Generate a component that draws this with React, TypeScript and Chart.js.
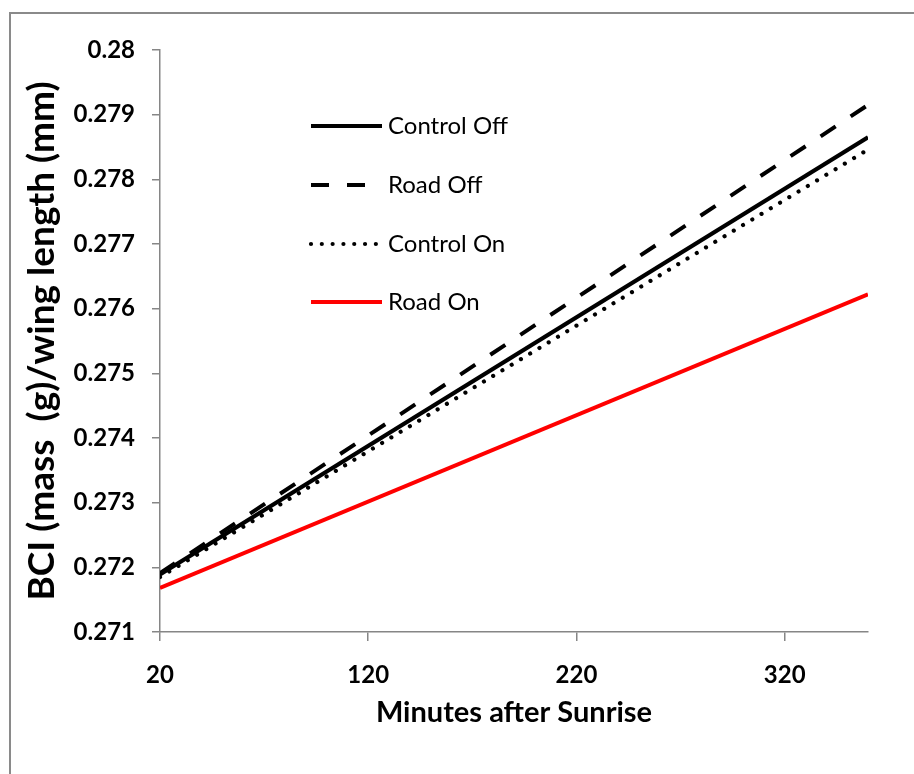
import React, { useEffect, useRef } from "react";
import { Chart, registerables } from "chart.js";

Chart.register(...registerables);

const xValues = [20, 360];
const controlOff = [0.27189, 0.27865];
const roadOff = [0.27191, 0.27915];
const controlOn = [0.27185, 0.27846];
const roadOn = [0.27168, 0.27622];
const xTicks = [20, 120, 220, 320];
const seriesLabels = ["Control Off", "Road Off", "Control On", "Road On"];

const FONT = "Lato";
const AXIS_GRAY = "#868686";

const toPoints = (ys: number[]) => xValues.map((x, i) => ({ x, y: ys[i] }));

const framePlugin = {
  id: "frame",
  beforeDraw(chart: any) {
    const ctx = chart.ctx;
    ctx.save();
    ctx.fillStyle = "#ffffff";
    ctx.fillRect(0, 0, chart.width, chart.height);
    ctx.strokeStyle = "#8a8a8a";
    ctx.lineWidth = 2;
    ctx.strokeRect(10, 13, 2000, 2000);
    ctx.restore();
  },
};

const legendPlugin = {
  id: "customLegend",
  afterDatasetsDraw(chart: any) {
    const ctx = chart.ctx;
    const x0 = 311;
    const x1 = 382;
    const rows = [126, 185, 244, 302];
    chart.data.datasets.forEach((ds: any, i: number) => {
      const y = rows[i];
      ctx.save();
      ctx.strokeStyle = ds.borderColor;
      ctx.lineWidth = ds.borderWidth;
      ctx.lineCap = ds.borderCapStyle || "butt";
      ctx.setLineDash(ds.borderDash || []);
      ctx.beginPath();
      ctx.moveTo(x0, y);
      ctx.lineTo(x1, y);
      ctx.stroke();
      ctx.setLineDash([]);
      ctx.fillStyle = "#000000";
      ctx.font = `24px ${FONT}`;
      ctx.textBaseline = "middle";
      ctx.textAlign = "left";
      ctx.fillText(ds.label, 388, y);
      ctx.restore();
    });
  },
};

export default function App() {
  const canvasRef = useRef<HTMLCanvasElement | null>(null);

  useEffect(() => {
    if (!canvasRef.current) return;
    const chart = new Chart(canvasRef.current, {
      type: "line",
      data: {
        datasets: [
          {
            label: seriesLabels[0],
            data: toPoints(controlOff),
            borderColor: "#000000",
            borderWidth: 4,
            borderCapStyle: "butt",
            pointRadius: 0,
          },
          {
            label: seriesLabels[1],
            data: toPoints(roadOff),
            borderColor: "#000000",
            borderWidth: 4,
            borderDash: [18, 18],
            borderCapStyle: "butt",
            pointRadius: 0,
          },
          {
            label: seriesLabels[2],
            data: toPoints(controlOn),
            borderColor: "#000000",
            borderWidth: 4.2,
            borderDash: [0.01, 10.8],
            borderCapStyle: "round",
            pointRadius: 0,
          },
          {
            label: seriesLabels[3],
            data: toPoints(roadOn),
            borderColor: "#ff0000",
            borderWidth: 4,
            borderCapStyle: "butt",
            pointRadius: 0,
          },
        ] as any,
      },
      options: {
        animation: false,
        responsive: false,
        maintainAspectRatio: false,
        layout: { padding: { top: 50, right: 46, left: 0, bottom: 0 } },
        plugins: {
          legend: { display: false },
          tooltip: { enabled: false },
        },
        scales: {
          x: {
            type: "linear",
            min: 20,
            max: 360,
            afterFit(scale: any) {
              scale.height = 142;
            },
            afterBuildTicks(scale: any) {
              scale.ticks = xTicks.map((v) => ({ value: v }));
            },
            grid: {
              drawOnChartArea: false,
              drawTicks: true,
              tickLength: 9,
              color: AXIS_GRAY,
              lineWidth: 1.5,
            },
            border: { color: AXIS_GRAY, width: 1.5 },
            ticks: {
              color: "#000000",
              padding: 20,
              maxRotation: 0,
              font: { family: FONT, size: 24, weight: "bold" },
              callback: (v: any) => String(v),
            },
            title: {
              display: true,
              text: "Minutes after Sunrise",
              color: "#000000",
              padding: 44,
              font: { family: FONT, size: 29, weight: "bold" },
            },
          },
          y: {
            type: "linear",
            min: 0.271,
            max: 0.28,
            afterFit(scale: any) {
              scale.width = 160;
            },
            grid: {
              drawOnChartArea: false,
              drawTicks: true,
              tickLength: 8,
              color: AXIS_GRAY,
              lineWidth: 1.5,
            },
            border: { color: AXIS_GRAY, width: 1.5 },
            ticks: {
              stepSize: 0.001,
              color: "#000000",
              padding: 17,
              font: { family: FONT, size: 24, weight: "bold" },
              callback: (v: any) => String(Number(Number(v).toFixed(3))),
            },
            title: {
              display: true,
              text: "BCI (mass  (g)/wing length (mm)",
              color: "#000000",
              padding: 20,
              font: { family: FONT, size: 37, weight: "bold" },
            },
          },
        },
      } as any,
      plugins: [framePlugin, legendPlugin],
    });
    return () => chart.destroy();
  }, []);

  return (
    <div style={{ position: "fixed", left: 0, top: 0, width: 914, height: 774 }}>
      <canvas ref={canvasRef} width={914} height={774} style={{ width: 914, height: 774 }} />
    </div>
  );
}
